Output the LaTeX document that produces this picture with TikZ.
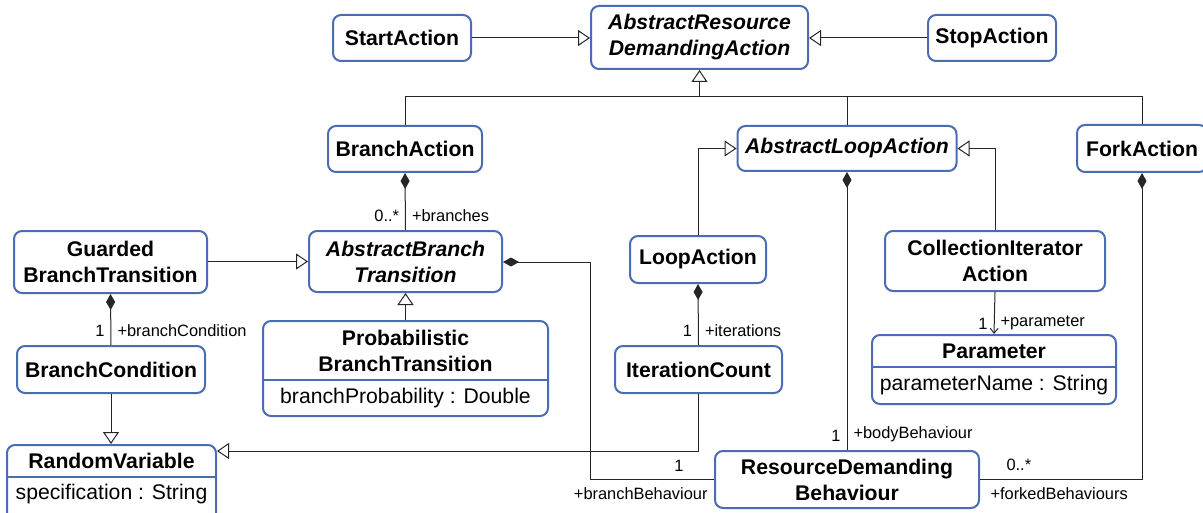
\documentclass[tikz,border=0pt]{standalone}
\usepackage{fontspec}
\setmainfont{Liberation Sans}
\usepackage{xcolor}
\usepackage{tikz}
\usetikzlibrary{arrows.meta}
\definecolor{umlblue}{RGB}{74,108,179}

\begin{document}
\begin{tikzpicture}[x=0.5pt, y=-0.5pt,
    cls/.style={draw=umlblue, line width=1pt, rounded corners=4pt, fill=white, align=center,
        inner sep=0pt, font=\fontsize{10.6}{13}\selectfont\bfseries},
    abscls/.style={cls, font=\fontsize{10.6}{13}\selectfont\bfseries\itshape},
    attr/.style={inner sep=0pt, font=\fontsize{10.6}{13}\selectfont},
    role/.style={inner sep=1pt, font=\fontsize{8.2}{9}\selectfont},
    conn/.style={draw=black!85, line width=0.5pt},
    gen/.style={conn, -{Triangle[open, length=6pt, width=8pt]}},
    comp/.style={conn, {Diamond[length=8pt, width=4.5pt]}-},
    nav/.style={conn, -{Straight Barb[length=2.5pt, width=4pt]}}]
    \useasboundingbox (0,0) rectangle (1203,513);
    % top row
    \node[cls, minimum width=69pt, minimum height=23pt] (start) at (402,38) {StartAction};
    \node[abscls, minimum width=108.5pt, minimum height=31.5pt] (arda) at (699.5,37.5) {AbstractResource\\DemandingAction};
    \node[cls, minimum width=64pt, minimum height=23pt] (stop) at (992,38) {StopAction};
    % second row
    \node[cls, minimum width=77pt, minimum height=23pt] (branch) at (405,149) {BranchAction};
    \node[abscls, minimum width=109.5pt, minimum height=22.5pt] (loopabs) at (847,148.5) {AbstractLoopAction};
    \node[cls, minimum width=65pt, minimum height=23.5pt] (fork) at (1142,148.5) {ForkAction};
    % third row
    \node[cls, minimum width=96.5pt, minimum height=31pt] (guarded) at (110.5,262) {Guarded\\BranchTransition};
    \node[abscls, minimum width=96.5pt, minimum height=30.5pt] (abt) at (405.5,261.5) {AbstractBranch\\Transition};
    \node[cls, minimum width=68pt, minimum height=23.5pt] (loop) at (698,259.5) {LoopAction};
    \node[cls, minimum width=110pt, minimum height=30pt] (cia) at (995,261) {CollectionIterator\\Action};
    % fourth row
    \node[cls, minimum width=94pt, minimum height=23.5pt] (bcond) at (111,369.5) {BranchCondition};
    \node[cls, minimum width=142.5pt, minimum height=47.5pt] (prob) at (405.5,368.5) {};
    \node[cls, draw=none, fill=none] (probname) at (405.5,351) {Probabilistic\\BranchTransition};
    \node[attr] (probattr) at (405.5,398) {branchProbability : Double};
    \draw[umlblue, line width=1pt] (263.5,380) -- (547.5,380);
    \node[cls, minimum width=83.5pt, minimum height=23.5pt] (icount) at (698.5,369.5) {IterationCount};
    \node[cls, minimum width=122pt, minimum height=34.5pt] (param) at (994,369.5) {};
    \node[cls, draw=none, fill=none] (paramname) at (994,351) {Parameter};
    \node[attr] (paramattr) at (994,385) {parameterName : String};
    \draw[umlblue, line width=1pt] (872.5,367) -- (1115.5,367);
    % bottom row
    \node[cls, minimum width=104.5pt, minimum height=42.5pt] (rv) at (111.5,487.5) {};
    \node[cls, draw=none, fill=none] (rvname) at (111.5,461) {RandomVariable};
    \node[attr] (rvattr) at (111.5,494) {specification : String};
    \draw[umlblue, line width=1pt] (7.5,477) -- (215.5,477);
    \node[cls, minimum width=132pt, minimum height=28.5pt] (rdb) at (847,479.5) {ResourceDemanding\\Behaviour};
    % generalisations
    \coordinate (tree) at (700,97);
    \draw[gen] (start.east) -- (start.east -| arda.west);
    \draw[gen] (stop.west) -- (stop.west -| arda.east);
    \draw[conn] (branch.north) |- (fork.north |- tree) -- (fork.north);
    \draw[conn] (loopabs.north) -- (loopabs.north |- tree);
    \draw[gen] (arda.south |- tree) -- (arda.south);
    \draw[gen] (guarded.east |- abt.west) -- (abt.west);
    \draw[gen] (prob.north) -- (abt.south);
    \draw[gen] (bcond.south) -- (bcond.south |- rv.north);
    \draw[gen] (loop.north) |- (loopabs.west);
    \draw[gen] (cia.north) |- (loopabs.east);
    \draw[gen] (icount.south) |- ([yshift=-3.5pt]rv.north east);
    % compositions
    \draw[comp] (branch.south) -- (abt.north)
        node[role, anchor=south east, xshift=-2pt, yshift=3pt] {0..*}
        node[role, anchor=south west, xshift=2pt, yshift=3pt] {+branches};
    \draw[comp] (guarded.south) -- (bcond.north)
        node[role, anchor=south east, xshift=-2pt, yshift=3pt] {1}
        node[role, anchor=south west, xshift=2pt, yshift=3pt] {+branchCondition};
    \draw[comp] (loop.south) -- (icount.north)
        node[role, anchor=south east, xshift=-2pt, yshift=3pt] {1}
        node[role, anchor=south west, xshift=2pt, yshift=3pt] {+iterations};
    \draw[comp] (loopabs.south) -- (rdb.north)
        node[role, anchor=south east, xshift=-2pt, yshift=3pt] {1}
        node[role, anchor=south west, xshift=2pt, yshift=3pt] {+bodyBehaviour};
    \coordinate (bbend) at (590,479.5);
    \draw[comp] (abt.east |- guarded.east) -| (bbend) -- (rdb.west)
        node[role, anchor=south east, xshift=-14pt, yshift=3pt] {1}
        node[role, anchor=north east, xshift=-2pt, yshift=-3pt] {+branchBehaviour};
    \draw[comp] (fork.south) |- (rdb.east)
        node[role, anchor=south west, xshift=12pt, yshift=3pt] {0..*}
        node[role, anchor=north west, xshift=4pt, yshift=-3pt] {+forkedBehaviours};
    % navigable association
    \draw[nav] (cia.south) -- (param.north)
        node[role, anchor=south east, xshift=-2pt, yshift=1pt] {1}
        node[role, anchor=south west, xshift=2pt, yshift=1pt] {+parameter};
\end{tikzpicture}
\end{document}
